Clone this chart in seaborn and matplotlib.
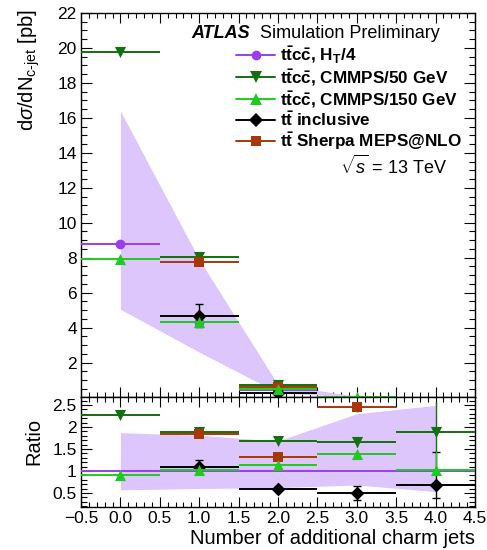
import numpy as np
import pandas as pd
import matplotlib
matplotlib.use("Agg")
import matplotlib.pyplot as plt
from matplotlib.ticker import MultipleLocator
from matplotlib.lines import Line2D
import seaborn as sns

# ---------------- data ----------------
nbins = [0, 1, 2, 3, 4]
labels = [r"$\mathbf{t\bar{t}c\bar{c}}$, $\mathbf{H_T}$/4",
          r"$\mathbf{t\bar{t}c\bar{c}}$, CMMPS/50 GeV",
          r"$\mathbf{t\bar{t}c\bar{c}}$, CMMPS/150 GeV",
          r"$\mathbf{t\bar{t}}$ inclusive",
          r"$\mathbf{t\bar{t}}$ Sherpa MEPS@NLO"]

# main panel cross sections [pb] (values below the visible range are estimates)
xs_ht4 = [8.8, 4.3, 0.44, 0.025, 0.004]
xs_cm50 = [19.75, 8.05, 0.74, 0.028, 0.008]
xs_cm150 = [7.95, 4.32, 0.49, 0.04, 0.004]
xs_incl = [np.nan, 4.68, 0.27, 0.012, 0.003]
xs_sherpa = [np.nan, 7.75, 0.58, 0.029, np.nan]
err_incl = [0.0, 0.65, 0.05, 0.005, 0.002]

# uncertainty band of H_T/4 (main)
band_up = [16.4, 7.9, 0.74, 0.07, 0.01]
band_dn = [5.05, 2.6, 0.27, 0.02, 0.002]

# ratio panel
r_ht4 = [1.0, 1.0, 1.0, 1.0, 1.0]
r_cm50 = [2.26, 1.89, 1.68, 1.65, 1.89]
r_cm150 = [0.9, 1.02, 1.14, 1.38, 1.01]
r_incl = [np.nan, 1.09, 0.6, 0.5, 0.68]
r_sherpa = [np.nan, 1.83, 1.32, 2.45, np.nan]
r_err_cm50_lo = [0.0, 0.02, 0.02, 0.1, 0.45]
r_err_cm50_hi = [0.0, 0.02, 0.02, 0.1, 0.67]
r_err_cm150_lo = [0.0, 0.0, 0.0, 0.0, 0.0]
r_err_cm150_hi = [0.0, 0.0, 0.0, 0.0, 0.44]
r_err_incl_lo = [0.0, 0.15, 0.04, 0.15, 0.29]
r_err_incl_hi = [0.0, 0.15, 0.04, 0.15, 0.76]
r_err_sherpa = [0.0, 0.03, 0.03, 0.12, 0.0]
rband_up = [1.87, 1.81, 1.68, 2.30, 2.49]
rband_dn = [0.57, 0.60, 0.62, 0.68, 0.53]

colors = ["#9b3df0", "#13700f", "#1ecb1e", "#000000", "#a8380a"]
markers = ["o", "v", "^", "D", "s"]
msizes = [7, 8, 8, 7, 6.5]
band_color = "#dcc6fb"

# ---------------- style ----------------
sns.set_theme(style="ticks")
plt.rcParams["font.family"] = ["Liberation Sans", "DejaVu Sans"]
plt.rcParams["mathtext.fontset"] = "custom"
plt.rcParams["mathtext.rm"] = "Liberation Sans"
plt.rcParams["mathtext.bf"] = "Liberation Sans:bold"
plt.rcParams["mathtext.it"] = "Liberation Sans:italic"
plt.rcParams["mathtext.sf"] = "Liberation Sans"
plt.rcParams["axes.linewidth"] = 1.0
plt.rcParams["axes.unicode_minus"] = True
for k in ["text.color", "axes.labelcolor", "xtick.color", "ytick.color", "axes.edgecolor"]:
    plt.rcParams[k] = "black"

fig = plt.figure(figsize=(4.87, 5.5), dpi=100)
W, H = 487.0, 550.0
ax1 = fig.add_axes([81 / W, 1 - 397 / H, 394 / W, 384 / H])
ax2 = fig.add_axes([81 / W, 1 - 507 / H, 394 / W, 110 / H], sharex=ax1)

YMIN_MAIN = 0.03
main_series = [xs_ht4, xs_cm50, xs_cm150, xs_incl, xs_sherpa]
ratio_series = [r_ht4, r_cm50, r_cm150, r_incl, r_sherpa]
zorders = [3, 4, 7, 6, 5]

# bands
ax1.fill_between(nbins, band_dn, band_up, color=band_color, lw=0, zorder=1)
ax2.fill_between(nbins, rband_dn, rband_up, color=band_color, lw=0, zorder=1)

x = np.array(nbins, dtype=float)
lw = 1.4

def visible(vals, lo):
    """Points below the axis minimum are not drawn (ROOT-like behaviour)."""
    v = np.array(vals, dtype=float)
    return np.where(v >= lo, v, np.nan)

# main panel
for i, ys in enumerate(main_series):
    ax1.errorbar(x, visible(ys, YMIN_MAIN), xerr=0.5, fmt="none", ecolor=colors[i],
                 elinewidth=lw, capsize=0, zorder=zorders[i])
ax1.errorbar(x, visible(xs_incl, YMIN_MAIN), yerr=err_incl, fmt="none", ecolor="black",
             elinewidth=1.0, capsize=3, capthick=1.0, zorder=6)
df_main = pd.DataFrame({
    "n": np.tile(x, 5),
    "xs": np.concatenate([visible(s, YMIN_MAIN) for s in main_series]),
    "series": np.repeat(labels, 5),
})
for i, lab in enumerate(labels):
    sub = df_main[df_main["series"] == lab]
    sns.scatterplot(data=sub, x="n", y="xs", ax=ax1, color=colors[i], marker=markers[i],
                    s=msizes[i] ** 2, edgecolor=colors[i], linewidth=0, zorder=zorders[i] + 0.5,
                    legend=False)

# ratio panel
ax2.errorbar([-0.5, 4.5], [1.0, 1.0], fmt="-", color=colors[0], lw=lw, zorder=3)
for i in range(1, 5):
    ys = np.array(ratio_series[i], dtype=float)
    ax2.errorbar(x, ys, xerr=0.5, fmt="none", ecolor=colors[i], elinewidth=lw,
                 capsize=0, zorder=zorders[i])
ax2.errorbar(x, r_cm50, yerr=[r_err_cm50_lo, r_err_cm50_hi], fmt="none", ecolor=colors[1],
             elinewidth=1.0, capsize=0, zorder=4)
ax2.errorbar(x, r_cm150, yerr=[r_err_cm150_lo, r_err_cm150_hi], fmt="none", ecolor=colors[2],
             elinewidth=1.0, capsize=0, zorder=7)
ax2.errorbar(x, r_sherpa, yerr=r_err_sherpa, fmt="none", ecolor=colors[4],
             elinewidth=1.0, capsize=0, zorder=5)
ax2.errorbar(x, r_incl, yerr=[r_err_incl_lo, r_err_incl_hi], fmt="none", ecolor="black",
             elinewidth=1.0, capsize=3, capthick=1.0, zorder=6)
df_ratio = pd.DataFrame({
    "n": np.tile(x, 4),
    "r": np.concatenate([np.array(s, dtype=float) for s in ratio_series[1:]]),
    "series": np.repeat(labels[1:], 5),
})
for i, lab in enumerate(labels[1:], start=1):
    sub = df_ratio[df_ratio["series"] == lab]
    sns.scatterplot(data=sub, x="n", y="r", ax=ax2, color=colors[i], marker=markers[i],
                    s=msizes[i] ** 2, edgecolor=colors[i], linewidth=0, zorder=zorders[i] + 0.5,
                    legend=False)

# axes limits & ticks
ax1.set_xlim(-0.5, 4.5)
ax1.set_ylim(YMIN_MAIN, 22.0)
ax2.set_ylim(0.18, 2.68)
ax1.yaxis.set_major_locator(MultipleLocator(2))
ax1.yaxis.set_minor_locator(MultipleLocator(0.5))
ax1.set_yticks(np.arange(2, 23, 2))
ax2.xaxis.set_major_locator(MultipleLocator(0.5))
ax2.xaxis.set_minor_locator(MultipleLocator(0.1))
ax2.yaxis.set_major_locator(MultipleLocator(0.5))
ax2.yaxis.set_minor_locator(MultipleLocator(0.1))
ax2.set_yticks([0.5, 1, 1.5, 2, 2.5])
ax2.set_yticklabels(["0.5", "1", "1.5", "2", "2.5"])

for ax in (ax1, ax2):
    ax.tick_params(which="both", direction="in", top=True, right=True, colors="black",
                   labelsize=12.5, pad=3)
    ax.tick_params(axis="y", which="major", length=8, width=0.8)
    ax.tick_params(axis="y", which="minor", length=4, width=0.8)
    ax.tick_params(axis="x", which="major", length=7, width=0.8)
    ax.tick_params(axis="x", which="minor", length=3.5, width=0.8)
    for sp in ax.spines.values():
        sp.set_color("black")
        sp.set_linewidth(1.0)
ax1.tick_params(axis="x", labelbottom=False)
ax1.set_xlabel("")

ax1.set_ylabel(r"d$\sigma$/dN$_{\mathrm{c\text{-}jet}}$ [pb]", fontsize=14.5, loc="top")
ax1.yaxis.set_label_coords(-0.098, 1.01)
ax2.set_ylabel("Ratio", fontsize=14.5)
ax2.yaxis.set_label_coords(-0.095, 0.6)
ax2.set_xlabel("Number of additional charm jets", fontsize=14.5, loc="right")
ax2.xaxis.set_label_coords(1.0, -0.2)

# texts
fig.text(191.7 / W, 1 - 38.3 / H, "ATLAS", fontsize=13, fontweight="bold", style="italic",
         va="baseline", ha="left")
fig.text(260 / W, 1 - 38.3 / H, "Simulation Preliminary", fontsize=13, va="baseline", ha="left")
fig.text(447 / W, 1 - 174 / H, r"$\sqrt{s}$ = 13 TeV", fontsize=13, va="baseline", ha="right")

# legend
handles = [Line2D([], [], color=colors[i], marker=markers[i], markersize=msizes[i],
                  markeredgewidth=0, lw=lw) for i in range(5)]
leg = fig.legend(handles, labels, loc="upper left", bbox_to_anchor=(236 / W, 1 - 45 / H),
                 frameon=False, prop={"size": 12.3, "weight": "bold"}, borderpad=0,
                 borderaxespad=0, handlelength=2.3, handletextpad=0.3, labelspacing=0.06)
for t in leg.get_texts():
    t.set_fontweight("bold")
    t.set_color("black")

fig.savefig("out.png", dpi=100)
